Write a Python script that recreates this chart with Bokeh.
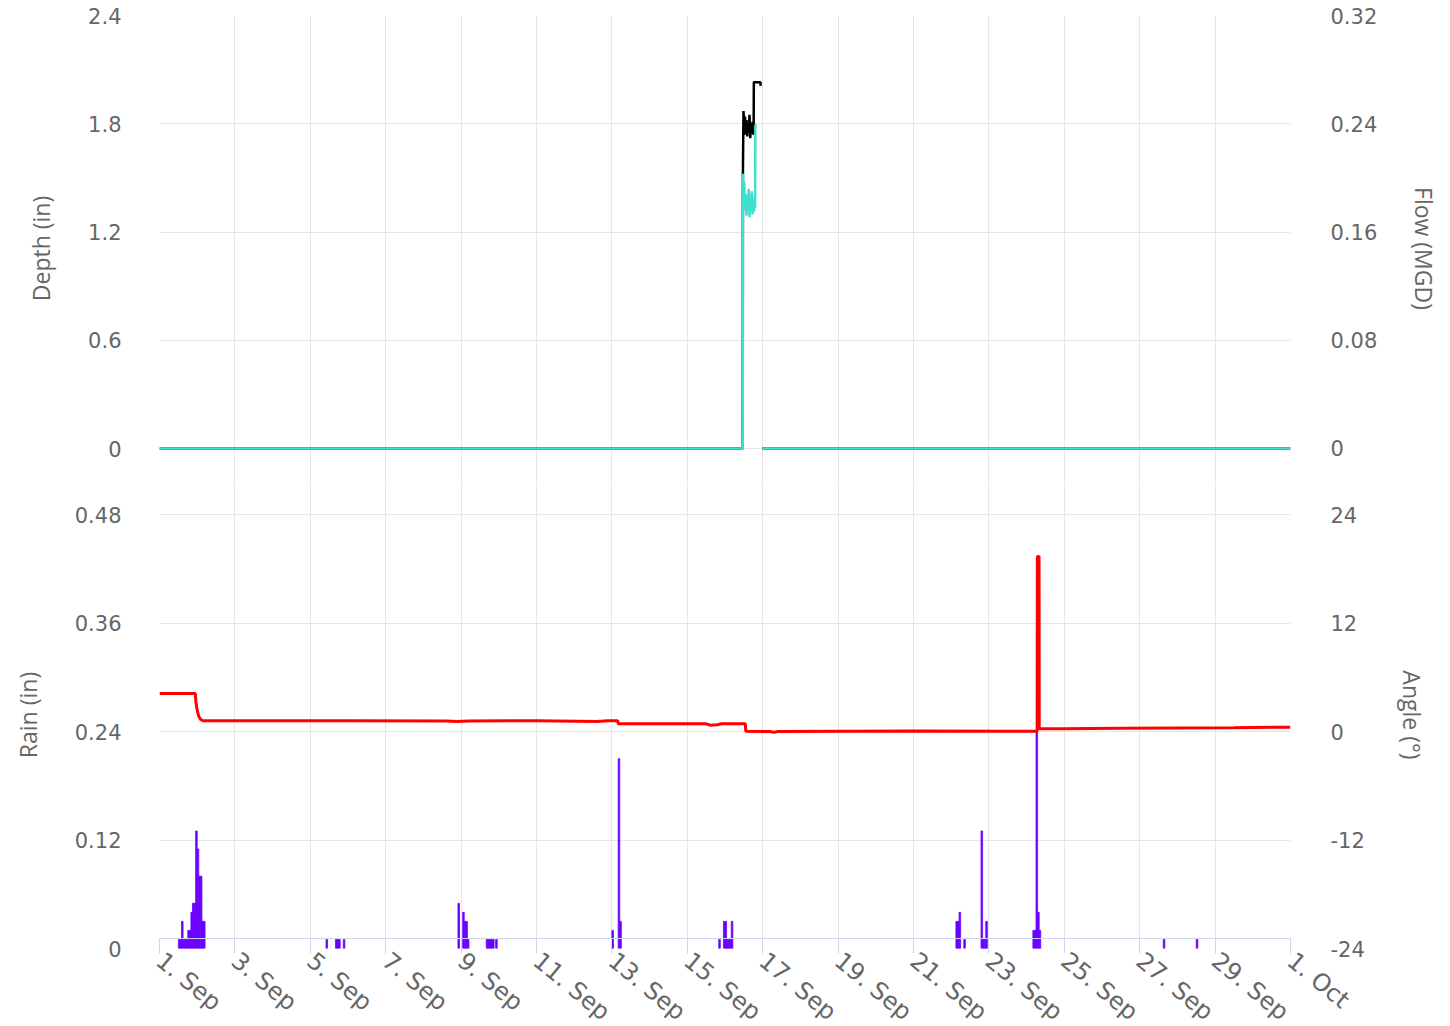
import math
import pandas as pd
from bokeh.plotting import figure
from bokeh.layouts import column
from bokeh.models import (Range1d, LinearAxis, DatetimeAxis, Grid, FixedTicker,
                          DaysTicker, DatetimeTickFormatter, Span)
from bokeh.embed import file_html
from bokeh.resources import INLINE

NAN = float("nan")
START = pd.Timestamp("2021-09-01 00:00")
END = pd.Timestamp("2021-10-01 00:00")

# ---------------- data ----------------
# time given as days since 1 Sep 00:00
depth_days = [0.0, 15.47, 15.475, 15.49, 15.51, 15.53, 15.55, 15.57, 15.59, 15.61, 15.63,
              15.65, 15.67, 15.69, 15.71, 15.73, 15.75, 15.76, 15.765, 15.94, 15.945,
              15.95, 15.99, 30.0]
depth_in = [0.0, 0.0, 1.52, 1.87, 1.80, 1.84, 1.74, 1.82, 1.73, 1.80, 1.76,
            1.85, 1.72, 1.79, 1.75, 1.81, 1.74, 1.78, 2.03, 2.03, 2.01,
            NAN, 0.0, 0.0]

flow_days = [0.0, 15.47, 15.475, 15.49, 15.51, 15.53, 15.55, 15.57, 15.59, 15.61, 15.63,
             15.65, 15.67, 15.69, 15.71, 15.73, 15.75, 15.77, 15.79, 15.80, 15.805,
             15.84, 15.85, 15.99, 30.0]
flow_mgd = [0.0, 0.0, 0.203, 0.190, 0.197, 0.176, 0.188, 0.172, 0.185, 0.180, 0.192,
            0.171, 0.184, 0.176, 0.190, 0.173, 0.182, 0.175, 0.186, 0.178, 0.239,
            0.239, NAN, 0.0, 0.0]

angle_days = [0.0, 0.95, 0.965, 0.99, 1.02, 1.05, 1.09, 1.14, 3.0, 5.0, 7.6, 7.9, 8.2,
              10.0, 11.6, 11.9, 12.15, 12.17, 14.5, 14.6, 14.8, 14.9, 15.54, 15.55,
              16.2, 16.3, 16.4, 20.0, 23.28, 23.285, 23.33, 23.335, 24.0, 25.5, 27.0,
              28.5, 30.0]
angle_deg = [4.2, 4.2, 3.3, 2.6, 2.0, 1.6, 1.35, 1.2, 1.2, 1.2, 1.17, 1.1, 1.17,
             1.2, 1.1, 1.2, 1.2, 0.85, 0.85, 0.7, 0.75, 0.85, 0.85, 0.03,
             0.0, -0.1, 0.0, 0.05, 0.03, 19.35, 19.35, 0.3, 0.3, 0.35, 0.4,
             0.42, 0.48]

# rain: hour of the month (hours since 1 Sep 00:00) and inches per hour
rain_hours = [12, 13, 14, 15, 16, 17, 18, 19, 20, 21, 22, 23, 24, 25, 26, 27, 28,
              106, 112, 113, 114, 117,
              190, 193, 194, 195, 196, 208, 209, 210, 211, 212, 214,
              288, 292, 293,
              356, 359, 360, 361, 362, 363, 364,
              507, 508, 509, 512, 523, 524, 525, 526,
              556, 557, 558, 559, 560,
              639, 660]
rain_in = [0.01, 0.01, 0.03, 0.01, 0.01, 0.01, 0.02, 0.02, 0.04, 0.05, 0.05, 0.13, 0.11, 0.08, 0.08, 0.03, 0.03,
           0.01, 0.01, 0.01, 0.01, 0.01,
           0.05, 0.04, 0.03, 0.03, 0.01, 0.01, 0.01, 0.01, 0.01, 0.01, 0.01,
           0.02, 0.21, 0.03,
           0.01, 0.03, 0.03, 0.01, 0.01, 0.01, 0.03,
           0.03, 0.03, 0.04, 0.01, 0.13, 0.01, 0.01, 0.03,
           0.02, 0.02, 0.24, 0.04, 0.02,
           0.01, 0.01]

depth_ticks = [0, 0.6, 1.2, 1.8, 2.4]
depth_labels = ["0", "0.6", "1.2", "1.8", "2.4"]
flow_ticks = [0, 0.08, 0.16, 0.24, 0.32]
flow_labels = ["0", "0.08", "0.16", "0.24", "0.32"]
rain_ticks = [0, 0.12, 0.24, 0.36, 0.48]
rain_labels = ["0", "0.12", "0.24", "0.36", "0.48"]
angle_ticks = [-24, -12, 0, 12, 24]
angle_labels = ["-24", "-12", "0", "12", "24"]
date_days = list(range(1, 30, 2))

# ---------------- helpers ----------------
def to_time(days):
    return START + pd.to_timedelta(pd.Series(days, dtype=float), unit="D")

GRID = "#e6e6e6"
TXT = "#666666"
TICK_FONT = "DejaVu Sans"
TITLE_FONT = "Open Sans"

x_range = Range1d(start=START, end=END)

def style_y_axis(ax, ticks, labels, title, standoff):
    ax.ticker = FixedTicker(ticks=ticks)
    ax.major_label_overrides = {t: l for t, l in zip(ticks, labels)}
    ax.axis_line_color = None
    ax.major_tick_line_color = None
    ax.minor_tick_line_color = None
    ax.major_tick_in = 0
    ax.major_tick_out = 0
    ax.major_label_standoff = standoff
    ax.major_label_text_color = TXT
    ax.major_label_text_font = TICK_FONT
    ax.major_label_text_font_size = "21px"
    ax.axis_label = title
    ax.axis_label_text_color = TXT
    ax.axis_label_text_font = TITLE_FONT
    ax.axis_label_text_font_size = "23px"
    ax.axis_label_text_font_style = "normal"
    ax.axis_label_standoff = 28

FRAME_W = 1131
LEFT, RIGHT = 159, 150

# ---------------- top panel: depth & flow ----------------
p1 = figure(width=FRAME_W + LEFT + RIGHT, height=15 + 466, frame_width=FRAME_W, frame_height=466,
            x_range=x_range, y_range=Range1d(-0.1829, 2.4),
            x_axis_location=None, y_axis_location=None,
            output_backend="svg", toolbar_location=None,
            min_border_left=LEFT, min_border_right=RIGHT, min_border_top=15, min_border_bottom=0)
p1.center = []
p1.extra_y_ranges = {"flow": Range1d(-0.0244, 0.32)}
p1.outline_line_color = None
p1.background_fill_color = "white"

ax_d = LinearAxis()
style_y_axis(ax_d, depth_ticks, depth_labels, "Depth (in)", 38)
p1.add_layout(ax_d, "left")
ax_f = LinearAxis(y_range_name="flow")
style_y_axis(ax_f, flow_ticks, flow_labels, "Flow (MGD)", 40)
p1.add_layout(ax_f, "right")

p1.add_layout(Grid(dimension=0, ticker=DaysTicker(days=date_days), grid_line_color=GRID))
p1.add_layout(Grid(dimension=1, ticker=FixedTicker(ticks=depth_ticks), grid_line_color=GRID))

p1.line(to_time(depth_days), depth_in, line_color="#000000", line_width=2.5)
p1.line(to_time(flow_days), flow_mgd, line_color="#40e0d0", line_width=2.5, y_range_name="flow")

# ---------------- bottom panel: rain & angle ----------------
p2 = figure(width=FRAME_W + LEFT + RIGHT, height=467 + 74, frame_width=FRAME_W, frame_height=467,
            x_range=x_range, y_range=Range1d(-24, 27.65),
            x_axis_location=None, y_axis_location=None,
            output_backend="svg", toolbar_location=None,
            min_border_left=LEFT, min_border_right=RIGHT, min_border_top=0, min_border_bottom=74)
p2.center = []
p2.extra_y_ranges = {"rain": Range1d(0, 0.5165)}
p2.outline_line_color = None

ax_r = LinearAxis(y_range_name="rain")
style_y_axis(ax_r, rain_ticks, rain_labels, "Rain (in)", 38)
p2.add_layout(ax_r, "left")
ax_a = LinearAxis()
style_y_axis(ax_a, angle_ticks, angle_labels, "Angle (°)", 40)
p2.add_layout(ax_a, "right")

xax = DatetimeAxis(ticker=DaysTicker(days=date_days),
                   formatter=DatetimeTickFormatter(days="%-d. %b", months="%-d. %b",
                                                   hours="%-d. %b", years="%-d. %b"))
xax.axis_line_color = None
xax.major_tick_line_color = "#ccd6eb"
xax.minor_tick_line_color = None
xax.major_tick_in = 10
xax.major_tick_out = 5
xax.major_label_standoff = 4
xax.major_label_orientation = -0.69
xax.major_label_text_color = TXT
xax.major_label_text_font = TICK_FONT
xax.major_label_text_font_size = "24px"
p2.add_layout(xax, "below")

p2.add_layout(Grid(dimension=0, ticker=DaysTicker(days=date_days), grid_line_color=GRID))
p2.add_layout(Grid(dimension=1, ticker=FixedTicker(ticks=rain_ticks), grid_line_color=GRID,
                   y_range_name="rain"))
p2.add_layout(Span(location=0.011, dimension="width", y_range_name="rain",
                   line_color="#ccd6eb", line_width=1))

rain_x = START + pd.to_timedelta(pd.Series(rain_hours, dtype=float) + 0.5, unit="h")
p2.vbar(x=rain_x, width=3600 * 1000, top=rain_in, bottom=0, y_range_name="rain",
        fill_color="#6a00ff", line_color="#6a00ff", line_width=0.8)
p2.line(to_time(angle_days), angle_deg, line_color="#ff0000", line_width=3)

layout = column(p1, p2, spacing=0)
open("out.html", "w").write(file_html(layout, INLINE))
